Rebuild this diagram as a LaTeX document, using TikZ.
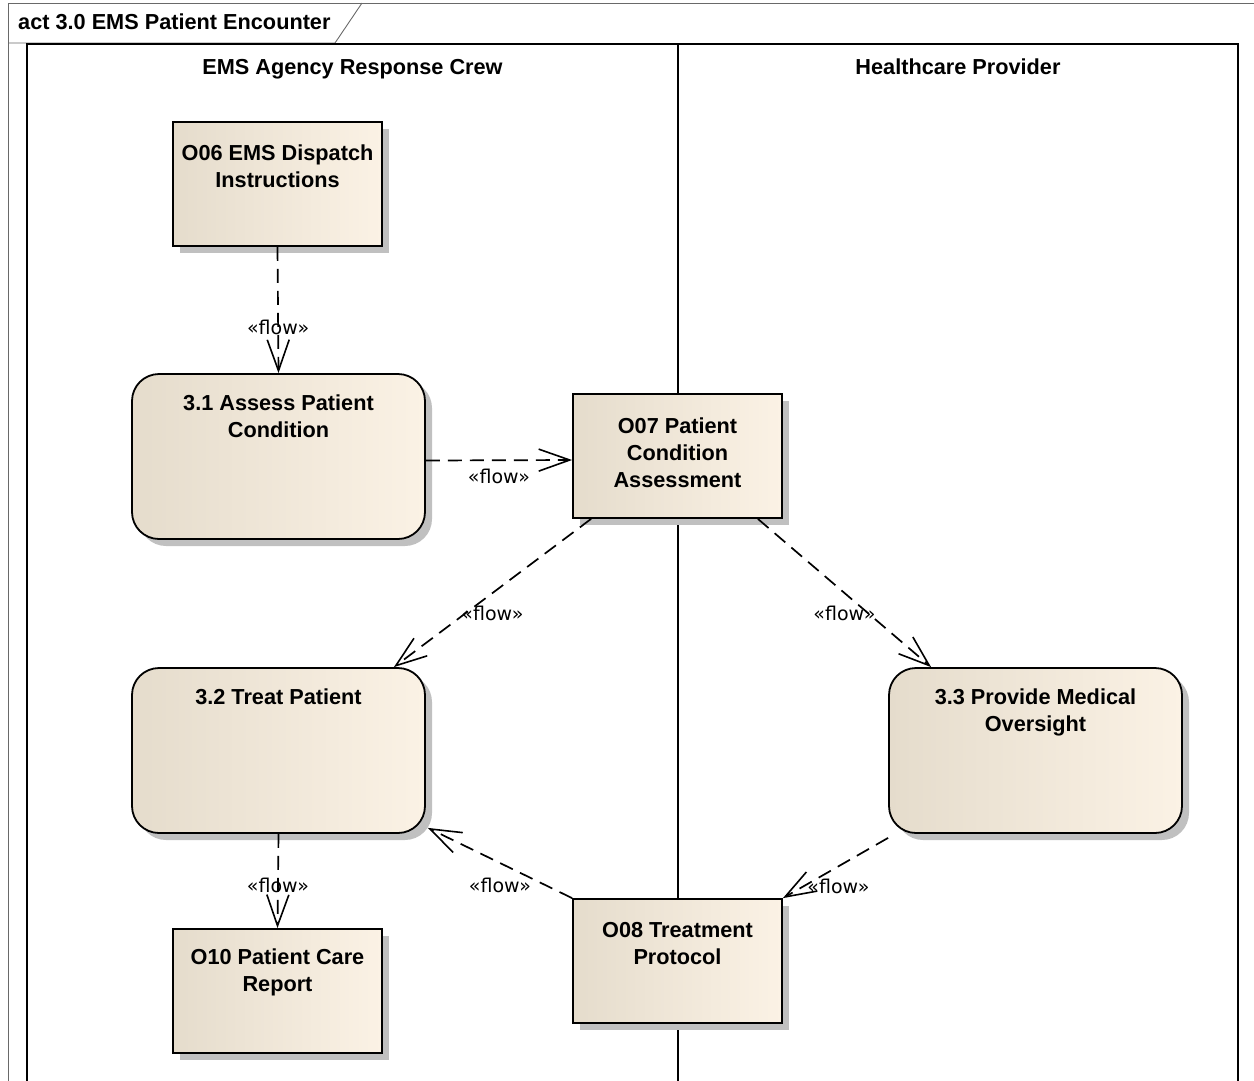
\documentclass[tikz,border=0pt]{standalone}
\usepackage{fontspec}
\setmainfont{Liberation Sans}
\newfontfamily\flowfont{DejaVu Sans}
\usepackage{tikz}
\usetikzlibrary{arrows.meta,positioning,shadows,calc}
\definecolor{boxleft}{RGB}{229,220,204}
\definecolor{boxright}{RGB}{251,242,229}
\definecolor{shadowgray}{RGB}{192,192,192}
\definecolor{framegray}{RGB}{105,105,105}
\tikzset{
  objbox/.style={draw=black, line width=1.8pt, left color=boxleft, right color=boxright,
    minimum width=209pt, minimum height=124pt, inner sep=0pt,
    drop shadow={shadow xshift=7pt, shadow yshift=-7pt, fill=shadowgray, opacity=1}},
  actbox/.style={objbox, rounded corners=27pt, minimum width=293pt, minimum height=165pt},
  boxtitle/.style={font=\fontsize{21.7pt}{27pt}\selectfont\bfseries, align=center, inner sep=0pt, anchor=north},
  lanehead/.style={font=\fontsize{21.7pt}{27pt}\selectfont\bfseries, inner sep=0pt, text height=15.5pt, text depth=4.5pt},
  flowline/.style={line width=1.7pt, dash pattern=on 14pt off 8pt,
    -{Straight Barb[length=31pt,width=22pt,line width=1.6pt]}},
  flowlabel/.style={font=\fontsize{19pt}{22pt}\selectfont\flowfont, inner sep=0pt}
}

\begin{document}
\begin{tikzpicture}[x=1pt,y=-1pt]
            \useasboundingbox (0,0) rectangle (1254,1080);

            \draw[framegray, line width=0.9pt] (8,1095) -- (8,3) -- (1270,3);
            \draw[framegray, line width=0.9pt] (8,43) -- (335,43) -- (362,3);
            \node[lanehead, anchor=west] (title) at (18,23.5) {act 3.0 EMS Patient Encounter};

            \draw[line width=2pt] (27,1095) -- (27,44) -- (1238,44) -- (1238,1095);
            \draw[line width=1.5pt] (678,44) -- (678,1095);
            \node[lanehead] (crew) at (352.5,69) {EMS Agency Response Crew};
            \node[lanehead] (hcp) at (958,69) {Healthcare Provider};

            \node[objbox] (O06) at (277.5,184) {};
            \node[boxtitle] (O06t) at ([yshift=-23.5pt]O06.north) {O06 EMS Dispatch\\Instructions};

            \node[actbox] (T31) at (278.5,456.5) {};
            \node[boxtitle] (T31t) at ([yshift=-21.5pt]T31.north) {3.1 Assess Patient\\Condition};

            \node[objbox] (O07) at (677.5,456) {};
            \node[boxtitle] (O07t) at ([yshift=-24pt]O07.north) {O07 Patient\\Condition\\Assessment};

            \node[actbox] (T32) at (278.5,750.5) {};
            \node[boxtitle] (T32t) at ([yshift=-21.5pt]T32.north) {3.2 Treat Patient};

            \node[actbox] (P33) at (1035.5,750.5) {};
            \node[boxtitle] (P33t) at ([yshift=-21.5pt]P33.north) {3.3 Provide Medical\\Oversight};

            \node[objbox] (O10) at (277.5,991) {};
            \node[boxtitle] (O10t) at ([yshift=-20pt]O10.north) {O10 Patient Care\\Report};

            \node[objbox] (O08) at (677.5,961) {};
            \node[boxtitle] (O08t) at ([yshift=-24pt]O08.north) {O08 Treatment\\Protocol};

            \draw[flowline] (O06.south) -- (T31.north) node[flowlabel, pos=0.64] {«flow»};
            \draw[flowline] ([yshift=-4pt]T31.east) -- ([yshift=-4pt]O07.west) node[flowlabel, pos=0.5, yshift=-16pt] {«flow»};
            \draw[flowline] ([xshift=19pt]O07.south west) -- ([xshift=-32pt]T32.north east) node[flowlabel, pos=0.5, yshift=-20pt] {«flow»};
            \draw[flowline] ([xshift=-25pt]O07.south east) -- ([xshift=43pt]P33.north west) node[flowlabel, pos=0.5, yshift=-20pt] {«flow»};
            \draw[flowline] (O08.north west) -- ([xshift=2pt,yshift=6pt]T32.south east) node[flowlabel, pos=0.5, yshift=-22pt] {«flow»};
            \draw[flowline] ([yshift=-4pt]P33.south west) -- (O08.north east) node[flowlabel, pos=0.5, xshift=3pt, yshift=-18pt] {«flow»};
            \draw[flowline] (T32.south) -- (O10.north) node[flowlabel, pos=0.55] {«flow»};
        \end{tikzpicture}
\end{document}
